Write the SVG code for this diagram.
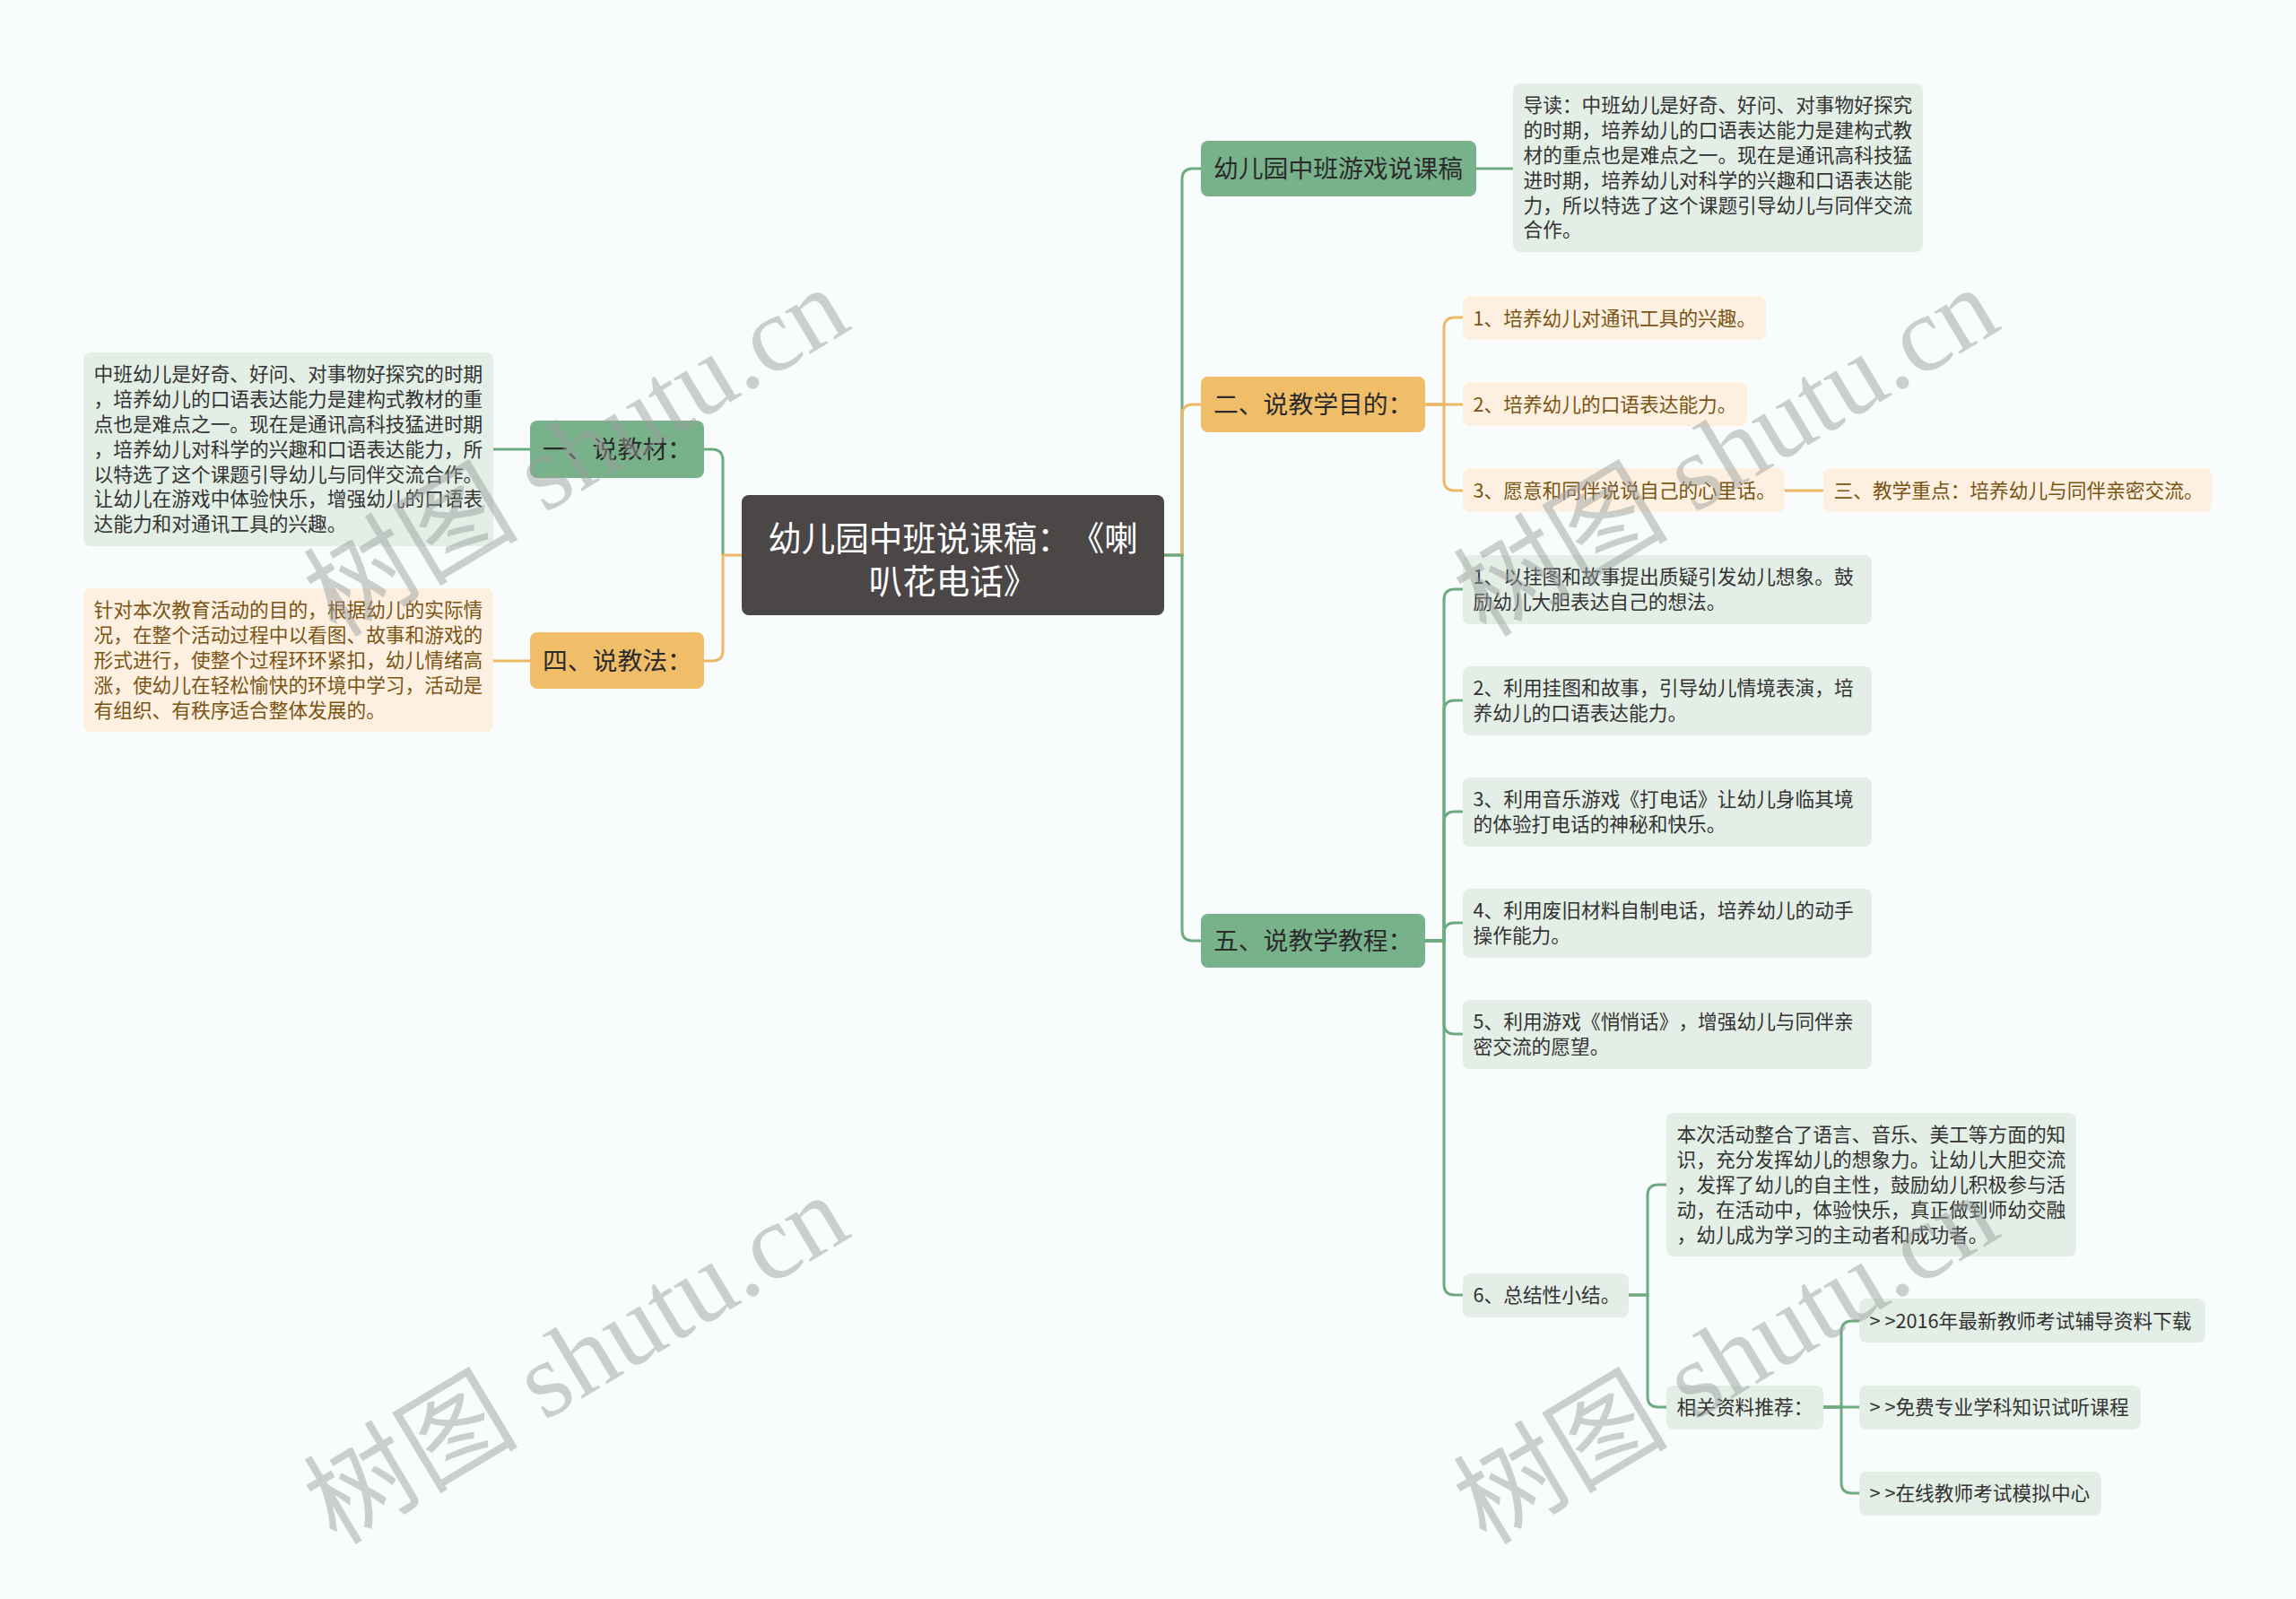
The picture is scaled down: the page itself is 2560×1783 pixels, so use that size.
<svg xmlns="http://www.w3.org/2000/svg" width="2560" height="1783" viewBox="0 0 2560 1783">
<style>
text{font-family:"Noto Sans CJK SC","Noto Sans",sans-serif;text-spacing-trim:space-all;}
.bg{fill:#f9fcfc;}
.root{fill:#4b4747;}
.rt{fill:#ffffff;font-size:37.5px;text-anchor:middle;}
.gn{fill:#78b28a;}
.on{fill:#f0bd68;}
.nt{fill:#2b2b2b;font-size:27.8px;}
.gb{fill:#e3eee6;}
.ob{fill:#fdf0e0;}
.gt{fill:#333333;font-size:21.7px;}
.ot{fill:#7a5414;font-size:21.7px;}
.cg{fill:none;stroke:#6daa80;stroke-width:3;}
.co{fill:none;stroke:#ecb865;stroke-width:3;}
.wm{font-family:"Liberation Serif","Noto Sans CJK SC",serif;font-size:120px;fill:#9a9e9e;opacity:0.48;}
</style>
<rect class="bg" x="0" y="0" width="2560" height="1783"/>

<g id="connectors">
  <path class="cg" d="M806,619 V513 Q806,501 794,501 H785"/>
  <path class="co" d="M827,619 H806 V725 Q806,737 794,737 H785"/>
  <path class="cg" d="M591,501 H550"/>
  <path class="co" d="M591,737 H550"/>
  <path class="cg" d="M1298,619 H1318 V200 Q1318,188 1330,188 H1339"/>
  <path class="co" d="M1298,619 H1318 V463 Q1318,451 1330,451 H1339"/>
  <path class="cg" d="M1298,619 H1318 V1037 Q1318,1049 1330,1049 H1339"/>
  <path class="cg" d="M1646,188 H1687"/>
  <path class="co" d="M1589,451 H1610 V366 Q1610,354 1622,354 H1631"/>
  <path class="co" d="M1589,451 H1631"/>
  <path class="co" d="M1589,451 H1610 V535 Q1610,547 1622,547 H1631"/>
  <path class="co" d="M1990,547 H2033"/>
  <path class="cg" d="M1589,1049 H1610 V669 Q1610,657 1622,657 H1631"/>
  <path class="cg" d="M1589,1049 H1610 V793 Q1610,781 1622,781 H1631"/>
  <path class="cg" d="M1589,1049 H1610 V917 Q1610,905 1622,905 H1631"/>
  <path class="cg" d="M1589,1049 H1610 V1041 Q1610,1029 1622,1029 H1631"/>
  <path class="cg" d="M1589,1049 H1610 V1141 Q1610,1153 1622,1153 H1631"/>
  <path class="cg" d="M1589,1049 H1610 V1432 Q1610,1444 1622,1444 H1631"/>
  <path class="cg" d="M1816,1444 H1837 V1333 Q1837,1321 1849,1321 H1858"/>
  <path class="cg" d="M1816,1444 H1837 V1557 Q1837,1569 1849,1569 H1858"/>
  <path class="cg" d="M2033,1569 H2053 V1485 Q2053,1473 2065,1473 H2073"/>
  <path class="cg" d="M2033,1569 H2073"/>
  <path class="cg" d="M2033,1569 H2053 V1653 Q2053,1665 2065,1665 H2073"/>
</g>

<g id="root">
  <rect class="root" x="827" y="552" width="471" height="134" rx="8"/>
  <text class="rt"><tspan x="1062.5" y="613.5">幼儿园中班说课稿：《喇</tspan><tspan x="1062.5" y="662">叭花电话》</tspan></text>
</g>

<g id="n-jiaocai">
  <rect class="gn" x="591" y="469" width="194" height="64" rx="8"/>
  <text class="nt" x="605" y="511">一、说教材：</text>
</g>
<g id="n-jiaocai-text">
  <rect class="gb" x="93" y="393" width="457" height="216" rx="8"/>
  <text class="gt" x="104.5" y="425.4">中班幼儿是好奇、好问、对事物好探究的时期</text>
  <text class="gt" x="104.5" y="453.2">，培养幼儿的口语表达能力是建构式教材的重</text>
  <text class="gt" x="104.5" y="481">点也是难点之一。现在是通讯高科技猛进时期</text>
  <text class="gt" x="104.5" y="508.8">，培养幼儿对科学的兴趣和口语表达能力，所</text>
  <text class="gt" x="104.5" y="536.6">以特选了这个课题引导幼儿与同伴交流合作。</text>
  <text class="gt" x="104.5" y="564.4">让幼儿在游戏中体验快乐，增强幼儿的口语表</text>
  <text class="gt" x="104.5" y="592.2">达能力和对通讯工具的兴趣。</text>
</g>

<g id="n-jiaofa">
  <rect class="on" x="591" y="705" width="194" height="63" rx="8"/>
  <text class="nt" x="605" y="747">四、说教法：</text>
</g>
<g id="n-jiaofa-text">
  <rect class="ob" x="93" y="656" width="457" height="160" rx="8"/>
  <text class="ot" x="104.5" y="688.4">针对本次教育活动的目的，根据幼儿的实际情</text>
  <text class="ot" x="104.5" y="716.2">况，在整个活动过程中以看图、故事和游戏的</text>
  <text class="ot" x="104.5" y="744">形式进行，使整个过程环环紧扣，幼儿情绪高</text>
  <text class="ot" x="104.5" y="771.8">涨，使幼儿在轻松愉快的环境中学习，活动是</text>
  <text class="ot" x="104.5" y="799.6">有组织、有秩序适合整体发展的。</text>
</g>

<g id="n-youxi">
  <rect class="gn" x="1339" y="157" width="307" height="62" rx="8"/>
  <text class="nt" x="1353" y="198">幼儿园中班游戏说课稿</text>
</g>
<g id="n-youxi-text">
  <rect class="gb" x="1687" y="93" width="457" height="188" rx="8"/>
  <text class="gt" x="1698.5" y="125.4">导读：中班幼儿是好奇、好问、对事物好探究</text>
  <text class="gt" x="1698.5" y="153.2">的时期，培养幼儿的口语表达能力是建构式教</text>
  <text class="gt" x="1698.5" y="181">材的重点也是难点之一。现在是通讯高科技猛</text>
  <text class="gt" x="1698.5" y="208.8">进时期，培养幼儿对科学的兴趣和口语表达能</text>
  <text class="gt" x="1698.5" y="236.6">力，所以特选了这个课题引导幼儿与同伴交流</text>
  <text class="gt" x="1698.5" y="264.4">合作。</text>
</g>

<g id="n-mudi">
  <rect class="on" x="1339" y="420" width="250" height="62" rx="8"/>
  <text class="nt" x="1353" y="461">二、说教学目的：</text>
</g>
<g id="n-mudi-1">
  <rect class="ob" x="1631" y="330" width="338" height="49" rx="8"/>
  <text class="ot" x="1642.5" y="362.5">1、培养幼儿对通讯工具的兴趣。</text>
</g>
<g id="n-mudi-2">
  <rect class="ob" x="1631" y="426" width="317" height="49" rx="8"/>
  <text class="ot" x="1642.5" y="458.5">2、培养幼儿的口语表达能力。</text>
</g>
<g id="n-mudi-3">
  <rect class="ob" x="1631" y="522" width="359" height="49" rx="8"/>
  <text class="ot" x="1642.5" y="554.5">3、愿意和同伴说说自己的心里话。</text>
</g>
<g id="n-zhongdian">
  <rect class="ob" x="2033" y="522" width="433" height="49" rx="8"/>
  <text class="ot" x="2044.5" y="554.5">三、教学重点：培养幼儿与同伴亲密交流。</text>
</g>

<g id="n-jiaocheng">
  <rect class="gn" x="1339" y="1019" width="250" height="60" rx="8"/>
  <text class="nt" x="1353" y="1059">五、说教学教程：</text>
</g>
<g id="n-jc-1">
  <rect class="gb" x="1631" y="619" width="456" height="77" rx="8"/>
  <text class="gt" x="1642.5" y="651.4">1、以挂图和故事提出质疑引发幼儿想象。鼓</text>
  <text class="gt" x="1642.5" y="679.2">励幼儿大胆表达自己的想法。</text>
</g>
<g id="n-jc-2">
  <rect class="gb" x="1631" y="743" width="456" height="77" rx="8"/>
  <text class="gt" x="1642.5" y="775.4">2、利用挂图和故事，引导幼儿情境表演，培</text>
  <text class="gt" x="1642.5" y="803.2">养幼儿的口语表达能力。</text>
</g>
<g id="n-jc-3">
  <rect class="gb" x="1631" y="867" width="456" height="77" rx="8"/>
  <text class="gt" x="1642.5" y="899.4">3、利用音乐游戏《打电话》让幼儿身临其境</text>
  <text class="gt" x="1642.5" y="927.2">的体验打电话的神秘和快乐。</text>
</g>
<g id="n-jc-4">
  <rect class="gb" x="1631" y="991" width="456" height="77" rx="8"/>
  <text class="gt" x="1642.5" y="1023.4">4、利用废旧材料自制电话，培养幼儿的动手</text>
  <text class="gt" x="1642.5" y="1051.2">操作能力。</text>
</g>
<g id="n-jc-5">
  <rect class="gb" x="1631" y="1115" width="456" height="77" rx="8"/>
  <text class="gt" x="1642.5" y="1147.4">5、利用游戏《悄悄话》，增强幼儿与同伴亲</text>
  <text class="gt" x="1642.5" y="1175.2">密交流的愿望。</text>
</g>
<g id="n-jc-6">
  <rect class="gb" x="1631" y="1420" width="185" height="49" rx="8"/>
  <text class="gt" x="1642.5" y="1452">6、总结性小结。</text>
</g>
<g id="n-jc-6-text">
  <rect class="gb" x="1858" y="1241" width="457" height="160" rx="8"/>
  <text class="gt" x="1869.5" y="1273.4">本次活动整合了语言、音乐、美工等方面的知</text>
  <text class="gt" x="1869.5" y="1301.2">识，充分发挥幼儿的想象力。让幼儿大胆交流</text>
  <text class="gt" x="1869.5" y="1329">，发挥了幼儿的自主性，鼓励幼儿积极参与活</text>
  <text class="gt" x="1869.5" y="1356.8">动，在活动中，体验快乐，真正做到师幼交融</text>
  <text class="gt" x="1869.5" y="1384.6">，幼儿成为学习的主动者和成功者。</text>
</g>
<g id="n-ziliao">
  <rect class="gb" x="1858" y="1545" width="175" height="49" rx="8"/>
  <text class="gt" x="1869.5" y="1577">相关资料推荐：</text>
</g>
<g id="n-ziliao-1">
  <rect class="gb" x="2073" y="1448" width="386" height="49" rx="8"/>
  <text class="gt" x="2084.5" y="1480.5">&gt; &gt;2016年最新教师考试辅导资料下载</text>
</g>
<g id="n-ziliao-2">
  <rect class="gb" x="2073" y="1545" width="314" height="49" rx="8"/>
  <text class="gt" x="2084.5" y="1577">&gt; &gt;免费专业学科知识试听课程</text>
</g>
<g id="n-ziliao-3">
  <rect class="gb" x="2073" y="1641" width="270" height="49" rx="8"/>
  <text class="gt" x="2084.5" y="1673">&gt; &gt;在线教师考试模拟中心</text>
</g>

<g id="watermarks">
  <text class="wm" transform="translate(375,712) rotate(-31)">树图 shutu.cn</text>
  <text class="wm" transform="translate(1657,712) rotate(-31)">树图 shutu.cn</text>
  <text class="wm" transform="translate(375,1724) rotate(-31)">树图 shutu.cn</text>
  <text class="wm" transform="translate(1657,1724) rotate(-31)">树图 shutu.cn</text>
</g>
</svg>
